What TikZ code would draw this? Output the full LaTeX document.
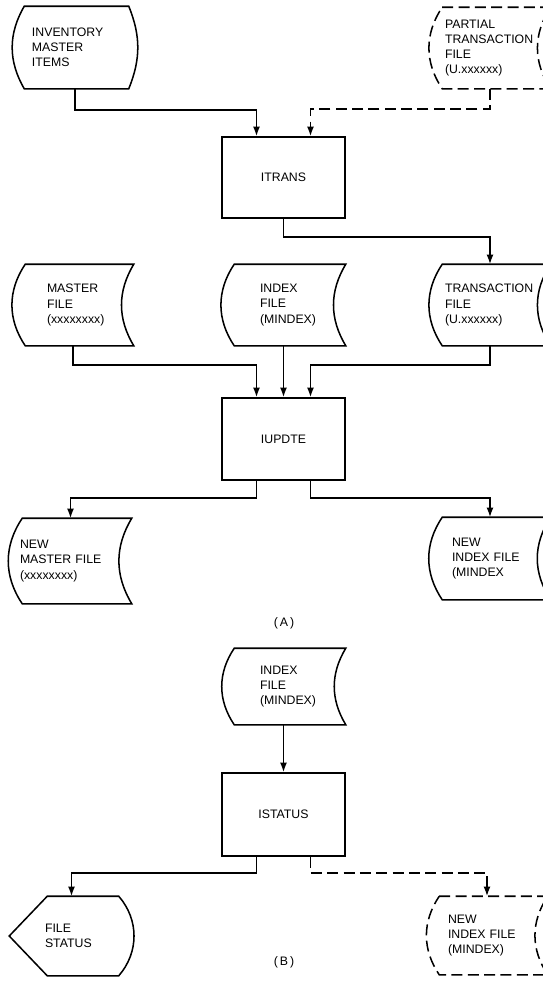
\documentclass[tikz,border=0pt]{standalone}
\usepackage{fontspec}
\setmainfont{Liberation Sans}
\usetikzlibrary{arrows.meta,positioning,calc}

% outlines drawn round a named node
\newcommand{\storedshape}[2][]{%
  \draw[#1] ([xshift=3.9mm]#2.north west) -- (#2.north east)
    to[bend right=31] (#2.south east) -- ([xshift=3.9mm]#2.south west)
    to[bend left=34] ([xshift=3.9mm]#2.north west) -- cycle;}
\newcommand{\drumshape}[2][]{%
  \draw[#1] ([xshift=3.9mm]#2.north west) -- (#2.north east)
    to[bend right=34] (#2.south east) -- ([xshift=3.9mm]#2.south west)
    to[bend left=34] ([xshift=3.9mm]#2.north west) -- cycle;
  \draw[#1] (#2.north east) to[bend left=34] (#2.south east);}
\newcommand{\termshape}[2][]{%
  \draw[#1] ([xshift=3.6mm]#2.north west) -- ([xshift=-2.7mm]#2.north east)
    to[bend left=22] ([xshift=-2.7mm]#2.south east) -- ([xshift=3.6mm]#2.south west)
    to[bend left=30] ([xshift=3.6mm]#2.north west) -- cycle;}
\newcommand{\dispshape}[2][]{%
  \draw[#1] (#2.west) -- ([xshift=11.4mm]#2.north west) -- ([xshift=-4.5mm]#2.north east)
    to[bend left=41] ([xshift=-4.5mm]#2.south east) -- ([xshift=11.4mm]#2.south west) -- cycle;}

\begin{document}
\begin{tikzpicture}[x=0.3mm,y=0.3mm,line width=1.3pt,
  every node/.style={font=\fontsize{10.5}{13}\selectfont},
  proc/.style={draw,rectangle,minimum width=36.9mm,minimum height=24.3mm,inner sep=0pt},
  filebox/.style={rectangle,align=left,inner sep=0pt,minimum width=36mm,minimum height=24mm},
  flow/.style={-{Latex[length=2.9mm,width=2.1mm]}},
  dashline/.style={dash pattern=on 3.3mm off 1.6mm}]
	\useasboundingbox (0,0) rectangle (543,-1003);
	\clip (0,0) rectangle (543,-1003);

	% (A)
	\node[filebox,minimum width=37.2mm,minimum height=24.3mm,text width=25.8mm] (inv) at (75,-47.5) {INVENTORY\\MASTER\\ITEMS};
	\termshape{inv}
	\node[filebox,text width=27mm] (partial) at (490,-48) {PARTIAL\\TRANSACTION\\FILE\\(U.xxxxxx)};
	\drumshape[dashline]{partial}
	\node[proc] (itrans) at (283.5,-177.5) {ITRANS};

	\node[filebox,text width=15.6mm] (master) at (73,-305) {MASTER\\FILE\\(xxxxxxxx)};
	\storedshape{master}
	\node[filebox,minimum width=36.9mm,text width=14.1mm] (indexA) at (283.5,-305) {INDEX\\FILE\\(MINDEX)};
	\storedshape{indexA}
	\node[filebox,text width=27mm] (trans) at (490,-305) {TRANSACTION\\FILE\\(U.xxxxxx)};
	\drumshape{trans}
	\node[proc,minimum height=24.6mm] (iupdte) at (283.5,-439) {IUPDTE};

	\node[filebox,minimum width=36.3mm,minimum height=25.2mm,text width=30.3mm] (newmaster) at (70.5,-561) {NEW\\MASTER~FILE\\(xxxxxxxx)};
	\storedshape{newmaster}
	\node[filebox,minimum height=24.3mm,text width=22.8mm] (newindexA) at (490,-558.5) {NEW\\INDEX~FILE\\(MINDEX};
	\drumshape{newindexA}
	\node (capA) at (284,-623) {(\,A\,)};

	\draw[flow] (inv.south) -- ++(0,-21) -| ([xshift=-8.1mm]itrans.north);
	\draw[flow,dashline] (partial.south) -- ++(0,-20) -| ([xshift=8.1mm]itrans.north);
	\draw[flow] (itrans.south) -- ++(0,-18) -| (trans.north);
	\draw[flow] (master.south) -- ++(0,-19) -| ([xshift=-8.1mm]iupdte.north);
	\draw[flow] (indexA) -- (iupdte);
	\draw[flow] (trans.south) -- ++(0,-19) -| ([xshift=8.1mm]iupdte.north);
	\draw[flow] ([xshift=-8.1mm]iupdte.south) -- ++(0,-17) -| (newmaster.north);
	\draw[flow] ([xshift=8.1mm]iupdte.south) -- ++(0,-17) -| (newindexA.north);

	% (B)
	\node[filebox,minimum width=36.9mm,minimum height=22.5mm,text width=14.1mm] (indexB) at (283.5,-686.5) {INDEX\\FILE\\(MINDEX)};
	\storedshape{indexB}
	\node[proc,minimum height=24.9mm] (istatus) at (283.5,-814.5) {ISTATUS};
	\node[filebox,minimum width=36.9mm,minimum height=23.4mm,text width=15.9mm] (filestatus) at (71.5,-936) {FILE\\STATUS};
	\dispshape{filestatus}
	\node[filebox,minimum height=23.1mm,text width=23.4mm] (newindexB) at (487,-935.5) {NEW\\INDEX~FILE\\(MINDEX)};
	\drumshape[dashline]{newindexB}
	\node (capB) at (284,-962) {(\,B\,)};

	\draw[flow] (indexB) -- (istatus);
	\draw[flow] ([xshift=-8.1mm]istatus.south) -- ++(0,-16) -| (filestatus.north);
	\draw[flow,dashline] ([xshift=8.1mm]istatus.south) -- ++(0,-16) -| (newindexB.north);
\end{tikzpicture}
\end{document}
